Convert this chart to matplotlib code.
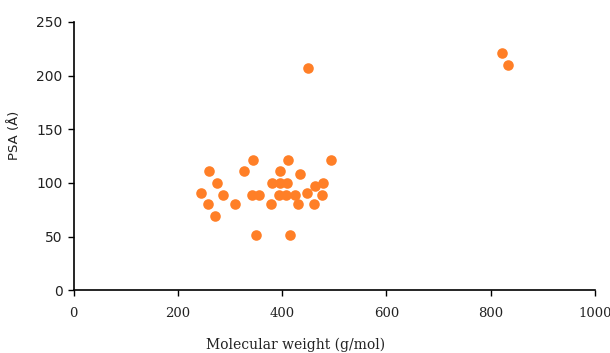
import numpy as np
import matplotlib
matplotlib.use("Agg")
import matplotlib.pyplot as plt

# molecular weight (g/mol) and polar surface area (A^2)
mol_weight = [244, 260, 274, 258, 271, 287, 309, 327, 344, 342, 356, 349,
              378, 380, 395, 396, 394, 409, 408, 412, 424, 415, 431, 435,
              447, 462, 463, 478, 476, 494, 450, 821, 834]
psa = [91, 111, 100, 80, 69, 89, 80, 111, 121, 89, 89, 51,
       80, 100, 100, 111, 89, 100, 89, 121, 89, 51, 80, 108,
       91, 80, 97, 100, 89, 121, 207, 221, 210]

x_ticks = [0, 200, 400, 600, 800, 1000]
y_ticks = [0, 50, 100, 150, 200, 250]

fig = plt.figure(figsize=(6.1, 3.53), dpi=100)
ax = fig.add_axes([0.121, 0.178, 0.854, 0.760])

ax.scatter(mol_weight, psa, s=58, color="#ff7f27", linewidths=0, zorder=3)

ax.set_xlim(0, 1000)
ax.set_ylim(0, 250)
ax.set_xticks(x_ticks)
ax.set_yticks(y_ticks)

for side in ("top", "right"):
    ax.spines[side].set_visible(False)
for side in ("left", "bottom"):
    ax.spines[side].set_linewidth(1.2)
    ax.spines[side].set_color("black")

ax.tick_params(axis="both", direction="out", length=4, width=1.0, colors="black")
ax.tick_params(axis="x", pad=8)
ax.tick_params(axis="y", pad=4)

for lab in ax.get_xticklabels():
    lab.set_fontfamily("DejaVu Serif")
    lab.set_fontsize(9.5)
    lab.set_color("#222222")
for lab in ax.get_yticklabels():
    lab.set_fontfamily("DejaVu Sans")
    lab.set_fontsize(10)
    lab.set_color("#222222")

ax.set_xlabel("Molecular weight (g/mol)", fontfamily="DejaVu Serif",
              fontsize=10, color="#222222")
ax.xaxis.set_label_coords(0.426, -0.175)
ax.set_ylabel("PSA (Å)", fontfamily="DejaVu Sans", fontsize=9.5,
              color="#222222")
ax.yaxis.set_label_coords(-0.102, 0.578)

fig.savefig("out.png", dpi=100)
